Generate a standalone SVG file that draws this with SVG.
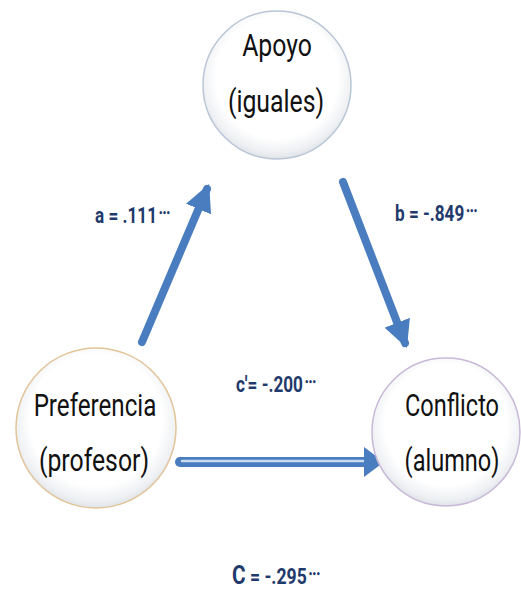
<svg xmlns="http://www.w3.org/2000/svg" width="521" height="591" viewBox="0 0 521 591">
<defs>
<radialGradient id="glass" cx="50%" cy="45%" r="55%">
<stop offset="0.75" stop-color="#ffffff"/>
<stop offset="0.92" stop-color="#eef0f3"/>
<stop offset="1" stop-color="#dfe3e8"/>
</radialGradient>
<marker id="ah" viewBox="0 0 10 10" refX="8" refY="5" markerWidth="3.4" markerHeight="3.4" orient="auto" markerUnits="strokeWidth">
<path d="M0,0 L10,5 L0,10 Z" fill="#4a7dbf"/>
</marker>
</defs>
<style>
.node{font-family:Roboto,"Liberation Sans",sans-serif;font-size:31px;fill:#111;text-anchor:middle}
.lbl{font-family:Roboto,"Liberation Sans",sans-serif;font-weight:bold;font-size:22px;fill:#1f3a6b}
.st{font-family:"DejaVu Sans",sans-serif;font-size:9px;letter-spacing:-1px}
.arr{stroke:#4a7dbf;stroke-width:8;stroke-linecap:round;fill:none}
</style>
<rect width="521" height="591" fill="#ffffff"/>
<g id="connectors">
<line class="arr" x1="142" y1="342" x2="207" y2="189" marker-end="url(#ah)"/>
<line class="arr" x1="343" y1="182" x2="405" y2="343" marker-end="url(#ah)"/>
<line x1="180" y1="462" x2="368" y2="462" stroke="#4a7dbf" stroke-width="10" stroke-linecap="round"/>
<line x1="182" y1="461" x2="364" y2="461" stroke="#c9dcf2" stroke-width="2.5" stroke-linecap="round"/>
<path d="M364,447 L384,462 L364,477 Z" fill="#4a7dbf"/>
</g>
<g id="apoyo">
<circle cx="277" cy="85" r="74" fill="url(#glass)" stroke="#b9c6d6" stroke-width="1.5"/>
<text class="node" transform="translate(277,56) scale(0.8,1)">Apoyo</text>
<text class="node" transform="translate(276,112) scale(0.8,1)">(iguales)</text>
</g>
<g id="preferencia">
<circle cx="96" cy="428" r="80" fill="url(#glass)" stroke="#e3c49a" stroke-width="1.5"/>
<text class="node" transform="translate(95,416) scale(0.78,1)">Preferencia</text>
<text class="node" transform="translate(94,471) scale(0.8,1)">(profesor)</text>
</g>
<g id="conflicto">
<circle cx="446" cy="432" r="74" fill="url(#glass)" stroke="#c8b8d8" stroke-width="1.5"/>
<text class="node" transform="translate(452,416) scale(0.76,1)">Conflicto</text>
<text class="node" transform="translate(452,471) scale(0.76,1)">(alumno)</text>
</g>
<g id="labels">
<text class="lbl" transform="translate(95,223) scale(0.78,1)">a = .111<tspan class="st" dx="2" dy="-7">•••</tspan></text>
<text class="lbl" transform="translate(395,221) scale(0.78,1)">b = -.849<tspan class="st" dx="2" dy="-7">•••</tspan></text>
<text class="lbl" transform="translate(236,392) scale(0.78,1)">c′= -.200<tspan class="st" dx="2" dy="-7">•••</tspan></text>
<text class="lbl" transform="translate(232,584) scale(0.8,1)"><tspan font-size="26">C</tspan> = -.295<tspan class="st" dx="2" dy="-7">•••</tspan></text>
</g>
</svg>
